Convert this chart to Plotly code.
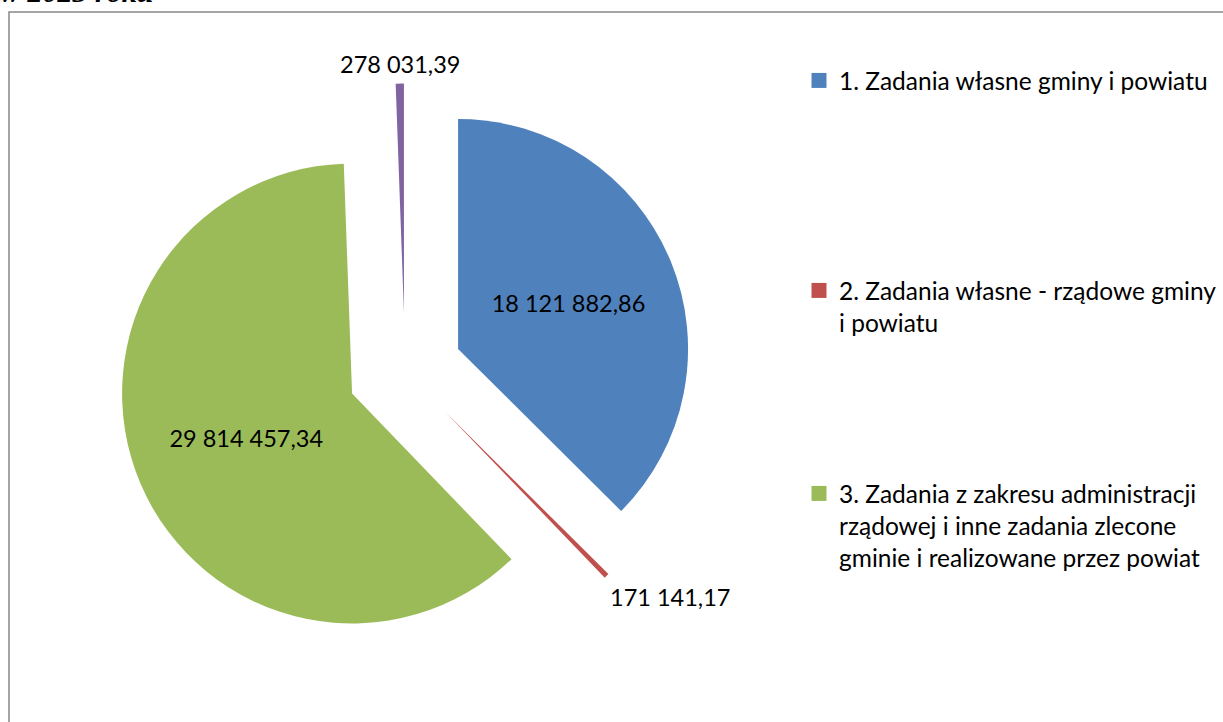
import math
import plotly.graph_objects as go

categories = [
    "1. Zadania własne gminy i powiatu",
    "2. Zadania własne - rządowe gminy i powiatu",
    "3. Zadania z zakresu administracji rządowej i inne zadania zlecone gminie i realizowane przez powiat",
    "4. Pozostałe",
]
legend_labels = [
    "1. Zadania własne gminy i powiatu",
    "2. Zadania własne - rządowe gminy<br>i powiatu",
    "3. Zadania z zakresu administracji<br>rządowej i inne zadania zlecone<br>gminie i realizowane przez powiat",
]
values = [18121882.86, 171141.17, 29814457.34, 278031.39]
colors = ["#4F81BD", "#C0504D", "#9BBB59", "#8064A2"]
inside_label = [True, False, True, False]
pulls = [0.25, 0.25, 0.25, 0.25]


def fmt(v):
    return f"{v:,.2f}".replace(",", " ").replace(".", ",")


W, H = 1223, 722
FONT = "Lato, 'Noto Sans', sans-serif"
LABEL_SIZE = 23.5
DOM_X = [0.0961, 0.5662]
DOM_Y = [0.0880, 0.8843]

fig = go.Figure()
fig.add_trace(go.Pie(
    labels=categories,
    values=values,
    text=[fmt(v) if ins else "" for v, ins in zip(values, inside_label)],
    textinfo="text",
    textposition=["inside" if ins else "none" for ins in inside_label],
    insidetextorientation="horizontal",
    textfont=dict(family=FONT, size=LABEL_SIZE, color="black"),
    marker=dict(colors=colors, line=dict(width=0)),
    sort=False,
    direction="clockwise",
    rotation=0,
    pull=pulls,
    domain=dict(x=DOM_X, y=DOM_Y),
    automargin=False,
    showlegend=False,
    hoverinfo="label+value",
))

# outside labels for the thin slices, placed at the tip of each pulled slice
total = sum(values)
cx, cy = sum(DOM_X) / 2, sum(DOM_Y) / 2
r_px = min((DOM_X[1] - DOM_X[0]) * W, (DOM_Y[1] - DOM_Y[0]) * H) / 2 / (1 + max(pulls))
cum = 0.0
for v, ins, p in zip(values, inside_label, pulls):
    mid = 2 * math.pi * (cum + v / 2) / total
    cum += v
    if ins:
        continue
    dist = r_px * (1 + p)
    tx = cx + dist * math.sin(mid) / W
    ty = cy + dist * math.cos(mid) / H
    if math.cos(mid) > 0.7:   # near the top: centred above the tip
        xa, ya, xs, ys = "center", "bottom", 0, 4
    else:                     # lower right: below and to the right of the tip
        xa, ya, xs, ys = "left", "top", 1, -5
    fig.add_annotation(text=fmt(v), xref="paper", yref="paper", x=tx, y=ty,
                       xanchor=xa, yanchor=ya, xshift=xs, yshift=ys, showarrow=False,
                       font=dict(family=FONT, size=LABEL_SIZE, color="black"))

legend_ys = [80, 290, 493]  # y of first text line centre
for i, lab in enumerate(legend_labels):
    lname = "legend" if i == 0 else f"legend{i+1}"
    fig.add_trace(go.Scatter(
        x=[None], y=[None], mode="markers", name=lab,
        marker=dict(symbol="square", size=15, color=colors[i], line=dict(width=0)),
        legend=lname, showlegend=True, hoverinfo="skip",
    ))
    fig.update_layout({lname: dict(
        x=799 / W, xanchor="left",
        y=1 - (legend_ys[i] - 22) / H, yanchor="top",
        valign="top", itemwidth=30,
        font=dict(family=FONT, size=24.5, color="black"),
        bgcolor="rgba(0,0,0,0)", borderwidth=0,
    )})

fig.add_shape(type="rect", xref="paper", yref="paper",
              x0=9 / W, x1=1.05, y0=-0.05, y1=1 - 12 / H,
              line=dict(color="#888888", width=1.5), fillcolor="rgba(0,0,0,0)", layer="below")

fig.add_annotation(text="<b><i>w 2023 roku</i></b>", xref="paper", yref="paper",
                   x=-2 / W, xanchor="left", y=1 - 10 / H, yanchor="bottom", showarrow=False,
                   font=dict(family="Liberation Serif", size=30, color="black"))

fig.update_layout(
    width=W, height=H,
    margin=dict(l=0, r=0, t=0, b=0, autoexpand=False),
    paper_bgcolor="white", plot_bgcolor="white",
    xaxis=dict(visible=False), yaxis=dict(visible=False),
)

fig.write_html("out.html", config={"displayModeBar": False},
               post_script="document.body.style.margin='0';")
